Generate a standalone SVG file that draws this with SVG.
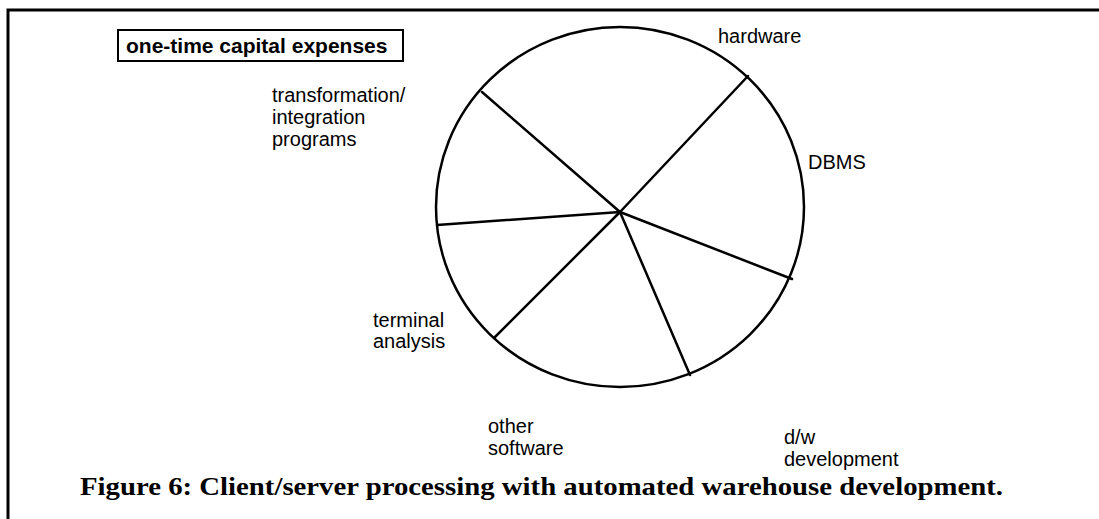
<svg xmlns="http://www.w3.org/2000/svg" width="1099" height="519" viewBox="0 0 1099 519">
<style>
.lbl{font-family:"Liberation Sans",Arial,sans-serif;font-size:20px;fill:#000}
.ttl{font-family:"Liberation Sans",Arial,sans-serif;font-size:21px;font-weight:bold;fill:#000}
.cap{font-family:"Liberation Serif","DejaVu Serif",serif;font-size:25px;font-weight:bold;fill:#000}
.ln{stroke:#000;stroke-width:2.5;fill:none;stroke-linecap:round}
</style>
<rect width="1099" height="519" fill="#fff"/>
<g id="frame">
<path d="M8,519 V10 H1099" fill="none" stroke="#000" stroke-width="3"/>
</g>
<g id="title">
<rect x="118" y="30" width="285" height="31" fill="#fff" stroke="#000" stroke-width="2"/>
<text class="ttl" x="126" y="53">one-time capital expenses</text>
</g>
<g id="pie">
<ellipse cx="620" cy="207" rx="184" ry="180" class="ln"/>
</g>
<g id="connectors">
<line class="ln" x1="620" y1="212" x2="748" y2="76"/>
<line class="ln" x1="620" y1="212" x2="482" y2="92"/>
<line class="ln" x1="620" y1="212" x2="437" y2="225"/>
<line class="ln" x1="620" y1="212" x2="494" y2="338"/>
<line class="ln" x1="620" y1="212" x2="690" y2="375"/>
<line class="ln" x1="620" y1="212" x2="792" y2="279"/>
</g>
<g id="hardware"><text class="lbl" x="718" y="43">hardware</text></g>
<g id="dbms"><text class="lbl" x="808" y="169">DBMS</text></g>
<g id="transformation"><text class="lbl" x="272" y="102">transformation/</text><text class="lbl" x="272" y="124">integration</text><text class="lbl" x="272" y="146">programs</text></g>
<g id="terminal"><text class="lbl" x="373" y="327">terminal</text><text class="lbl" x="373" y="348">analysis</text></g>
<g id="other"><text class="lbl" x="488" y="433">other</text><text class="lbl" x="488" y="455">software</text></g>
<g id="dw"><text class="lbl" x="784" y="444">d/w</text><text class="lbl" x="784" y="466">development</text></g>
<g id="caption"><text class="cap" x="80" y="495" textLength="923" lengthAdjust="spacingAndGlyphs">Figure 6:  Client/server processing with automated warehouse development.</text></g>
</svg>
